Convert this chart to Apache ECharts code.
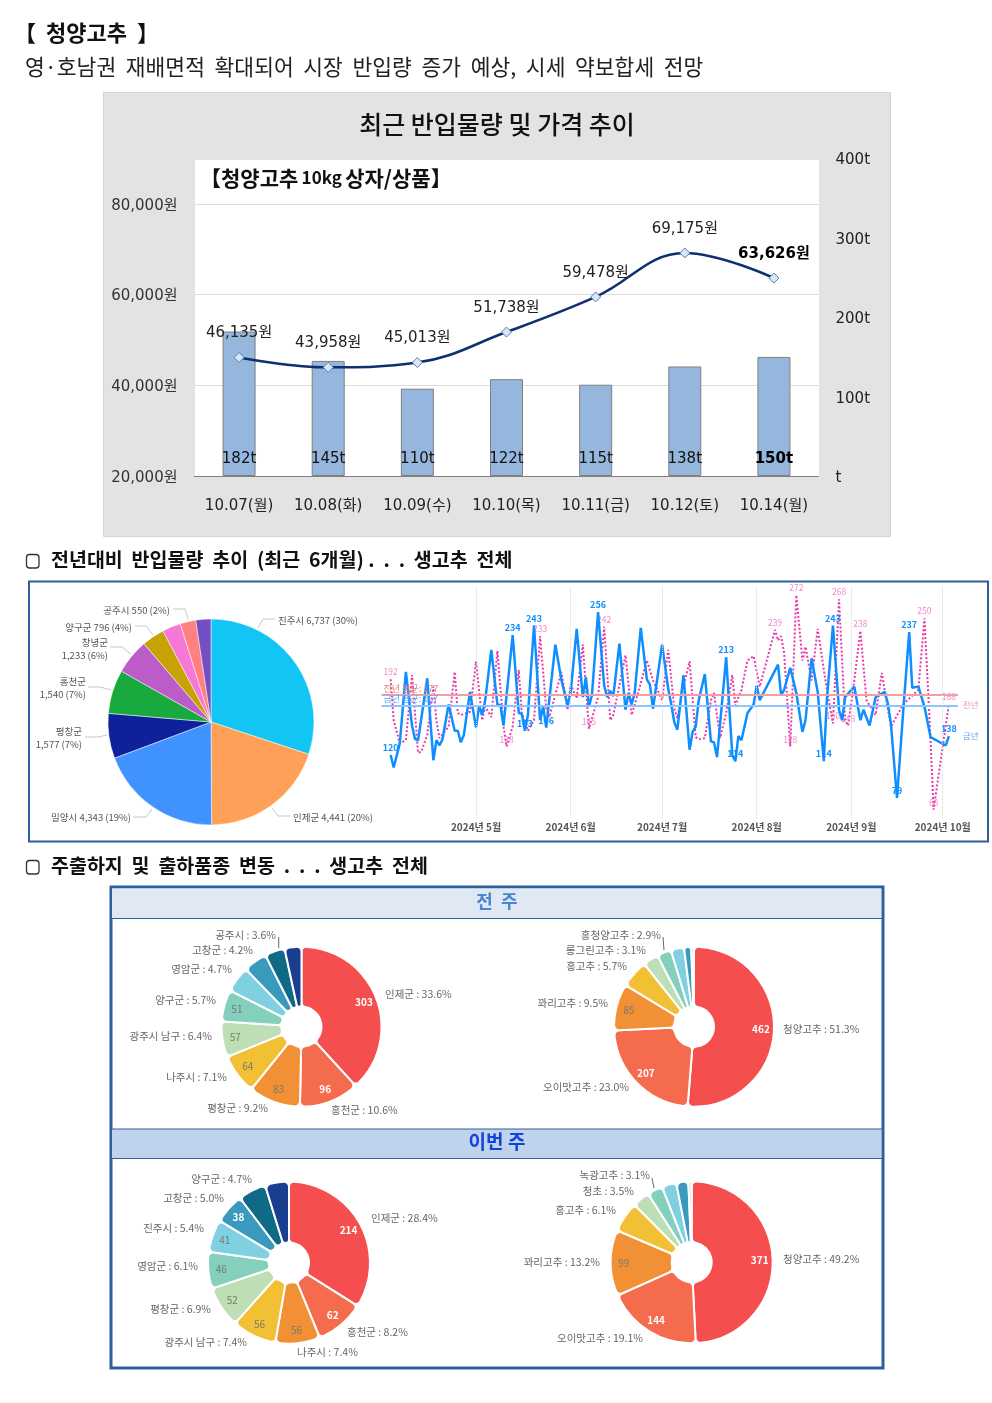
<!DOCTYPE html>
<html>
<head>
<meta charset="utf-8">
<style>
  html, body { margin: 0; padding: 0; background: #fff; }
  #main { width: 992px; height: 1403px; }
</style>
<script src="https://cdn.jsdelivr.net/npm/echarts@6/dist/echarts.min.js"></script>
</head>
<body>
<div id="main"></div>
<script>
// 상단 : 반입물량 + 가격
var days = ['10.07(월)', '10.08(화)', '10.09(수)', '10.10(목)', '10.11(금)', '10.12(토)', '10.14(월)'];
var volumes = [182, 145, 110, 122, 115, 138, 150];
var prices = [46135, 43958, 45013, 51738, 59478, 69175, 63626];

// 전년대비 파이
var yearPieNames = ['진주시', '인제군', '밀양시', '평창군', '홍천군', '창녕군', '양구군', '기타1', '공주시', '기타2'];
var yearPieValues = [6737, 4441, 4343, 1577, 1540, 1233, 796, 650, 550, 530];
var yearPieTexts = ['진주시 6,737 (30%)', '인제군 4,441 (20%)', '밀양시 4,343 (19%)', '평창군\n1,577 (7%)', '홍천군\n1,540 (7%)', '창녕군\n1,233 (6%)', '양구군 796 (4%)', '', '공주시 550 (2%)', ''];
var yearPieColors = ['#12c5f5', '#ffa058', '#4092ff', '#0f219a', '#19aa3f', '#bc5cc8', '#c6a302', '#f578d6', '#ff8080', '#744ec2'];
var yearPieAnchors = [[278, 620], [293, 817], [131, 817], [82, 738], [86, 688], [108, 649], [132, 627], null, [170, 610], null];
var yearPieLeaders = [
  [[258, 628], [263, 619], [275, 619]], [[272, 808], [278, 816], [290, 816]], [[152, 809], [146, 817], [133, 817]], [[107, 735], [98, 737], [85, 737]],
  [[111, 690], [100, 687], [88, 687]], [[131, 654], [122, 647], [110, 647]], [[153, 635], [146, 626], [135, 626]], [[188, 619], [185, 609], [173, 609]]
];

// 금년 (일자, 반입량)
var thisDates = ['04-03','04-04','04-06','04-08','04-10','04-11','04-12','04-15','04-17','04-18','04-19','04-20','04-22','04-24','04-25','04-26','04-27','04-29',
  '05-01','05-02','05-03','05-04','05-06','05-08','05-09','05-10','05-13','05-15','05-16','05-17','05-18','05-20','05-22','05-23','05-24','05-27','05-29','05-31',
  '06-01','06-03','06-05','06-06','06-07','06-08','06-10','06-12','06-13','06-14','06-15','06-17','06-19','06-20','06-21','06-22','06-24','06-26','06-27','06-28',
  '07-01','07-03','07-04','07-05','07-06','07-08','07-10','07-11','07-12','07-13','07-15','07-17','07-18','07-19','07-22','07-24','07-25','07-26','07-27','07-29','07-31',
  '08-01','08-02','08-08','08-09','08-10','08-12','08-14','08-16','08-17','08-19','08-21','08-23','08-24','08-26','08-28','08-29','08-30',
  '09-02','09-04','09-05','09-07','09-09','09-12','09-13','09-14','09-16','09-18','09-20','09-21','09-23','09-25','09-27','10-02','10-03'];
var thisValues = [120,108,131,199,148,135,134,193,115,134,129,135,168,143,143,132,139,180,
  146,167,158,172,220,168,167,148,234,160,159,143,158,243,153,166,146,225,191,167,
  179,240,175,194,166,177,256,186,175,181,176,226,163,179,168,179,241,192,187,164,
  225,183,168,151,144,196,125,142,147,172,197,133,132,118,213,120,114,138,134,160,168,
  186,172,206,177,182,203,179,142,153,212,180,114,172,243,163,153,175,
  185,153,163,148,175,180,169,150,79,160,237,184,185,166,137,129,138];
var thisMarked = ['04-03','05-13','05-17','05-20','05-24','06-10','07-22','07-25','08-23','08-26','09-16','09-20','10-03'];

// 전년 (일자, 반입량)
var lastDates = ['04-03','04-04','04-06','04-08','04-10','04-12','04-13','04-15','04-17','04-18','04-19','04-22','04-24','04-25','04-26','04-29',
  '05-01','05-03','05-04','05-06','05-08','05-10','05-11','05-13','05-15','05-16','05-18','05-20','05-22','05-24','05-25','05-29','05-31',
  '06-01','06-03','06-05','06-07','06-10','06-12','06-14','06-15','06-19','06-21','06-24','06-26','06-28',
  '07-01','07-03','07-05','07-06','07-08','07-10','07-12','07-13','07-15','07-17','07-18','07-20','07-22','07-24','07-25','07-27','07-29','07-31',
  '08-02','08-07','08-08','08-09','08-10','08-12','08-14','08-16','08-17','08-19','08-21','08-24','08-26','08-28','08-30','08-31',
  '09-02','09-04','09-06','09-09','09-11','09-14','09-18','09-23','09-25','09-27','09-28','10-03'];
var lastValues = [192,153,131,134,196,122,123,139,185,153,136,147,199,160,158,161,
  209,153,166,156,219,147,128,147,201,160,143,153,233,164,156,199,163,
  187,174,225,145,175,242,153,158,215,158,188,210,191,
  172,220,164,155,185,209,137,135,136,172,179,136,160,196,167,182,210,214,
  185,239,229,233,217,128,272,210,223,191,240,182,150,268,153,148,
  191,238,172,158,198,147,168,182,250,134,68,168];
var lastMarked = ['04-03','05-11','05-22','06-07','06-12','08-07','08-12','08-14','08-26','08-28','08-31','09-04','09-25','09-28','10-03'];

var thisAvg = 167;
var lastAvg = 177;
var monthStarts = ['2024-05-01', '2024-06-01', '2024-07-01', '2024-08-01', '2024-09-01', '2024-10-01'];

// 주출하지 / 품종 (전 주, 이번 주)
var donutColors = ['#f44e4e', '#f46b4e', '#f29035', '#f2c035', '#bedeb5', '#85cfbd', '#7fd0e0', '#3a9abd', '#106a85', '#1a3e8f'];

var prevRegionValues = [303, 96, 83, 64, 57, 51, 42, 38, 32, 27];
var prevRegionTexts = ['인제군 : 33.6%', '홍천군 : 10.6%', '평창군 : 9.2%', '나주시 : 7.1%', '광주시 남구 : 6.4%', '양구군 : 5.7%', '영암군 : 4.7%', '고창군 : 4.2%', '공주시 : 3.6%'];
var prevRegionShown = 6;
var prevRegionWhite = [0, 1];
var prevRegionAnchors = [[385, 994], [331, 1110], [268, 1108], [227, 1077], [212, 1036], [216, 1000], [232, 969], [253, 950], [276, 935]];

var prevKindValues = [462, 207, 85, 51, 28, 26, 24, 13, 5];
var prevKindColors = ['#f44e4e', '#f46b4e', '#f29035', '#f2c035', '#bedeb5', '#85cfbd', '#7fd0e0', '#3a9abd', '#cfe3ee'];
var prevKindTexts = ['청양고추 : 51.3%', '오이맛고추 : 23.0%', '꽈리고추 : 9.5%', '홍고추 : 5.7%', '롱그린고추 : 3.1%', '홍청양고추 : 2.9%'];
var prevKindShown = 3;
var prevKindWhite = [0, 1];
var prevKindAnchors = [[783, 1029], [629, 1087], [608, 1003], [627, 966], [646, 950], [661, 935]];

var nowRegionValues = [214, 62, 56, 56, 52, 46, 41, 38, 35, 30];
var nowRegionTexts = ['인제군 : 28.4%', '홍천군 : 8.2%', '나주시 : 7.4%', '광주시 남구 : 7.4%', '평창군 : 6.9%', '영암군 : 6.1%', '진주시 : 5.4%', '고창군 : 5.0%', '양구군 : 4.7%'];
var nowRegionShown = 8;
var nowRegionWhite = [0, 1, 7];
var nowRegionAnchors = [[371, 1218], [347, 1332], [297, 1352], [247, 1342], [211, 1309], [198, 1266], [204, 1228], [224, 1198], [252, 1179]];

var nowKindValues = [371, 144, 99, 46, 26, 23, 22, 18, 5];
var nowKindTexts = ['청양고추 : 49.2%', '오이맛고추 : 19.1%', '꽈리고추 : 13.2%', '홍고추 : 6.1%', '청초 : 3.5%', '녹광고추 : 3.1%'];
var nowKindShown = 3;
var nowKindWhite = [0, 1];
var nowKindAnchors = [[783, 1259], [643, 1338], [600, 1262], [616, 1210], [634, 1191], [650, 1175]];

var donutTicks = [[[278.7, 937], [278.7, 948]], [[663, 937], [664, 950]], [[652, 1178], [654, 1188]]];

var KR = '"Noto Sans CJK KR", sans-serif';
var LATIN = '"DejaVu Sans", "Noto Sans CJK KR", sans-serif';

function won(v) { return echarts.format.addCommas(v) + '원'; }

function pairs(dates, values, marked, color, size, weight) {
  return dates.map(function (d, i) {
    var item = { value: ['2024-' + d, values[i]] };
    if (marked.indexOf(d) >= 0) {
      item.label = { show: true, position: 'top', distance: 3, formatter: String(values[i]), color: color, fontSize: size, fontWeight: weight, fontFamily: KR };
    }
    return item;
  });
}

function anchorLayout(anchors, cx) {
  return function (params) {
    var a = anchors[params.dataIndex];
    if (!a) return {};
    return { x: a[0], y: a[1], align: a[0] > cx ? 'left' : 'right', verticalAlign: 'middle' };
  };
}

// 도넛 하나 = 조각+바깥글자 시리즈 + 안쪽 숫자용 투명 시리즈
function donut(cx, cy, r, r0, values, colors, texts, anchors, shown, white) {
  return [{
    type: 'pie', center: [cx, cy], radius: [r0, r], startAngle: 90, silent: true, avoidLabelOverlap: false,
    itemStyle: { borderColor: '#fff', borderWidth: 2, borderRadius: 5 },
    label: { position: 'outer', color: '#666', fontSize: 10.5, fontFamily: KR },
    labelLine: { show: false },
    labelLayout: anchorLayout(anchors, cx),
    data: values.map(function (v, i) {
      return {
        value: v,
        itemStyle: { color: colors[i] },
        label: { show: i < texts.length, formatter: texts[i] || '' }
      };
    })
  }, {
    type: 'pie', center: [cx, cy], radius: [r - 32, r], startAngle: 90, silent: true, avoidLabelOverlap: false, z: 3,
    itemStyle: { color: 'transparent' },
    labelLine: { show: false },
    data: values.map(function (v, i) {
      var isWhite = white.indexOf(i) >= 0;
      return {
        value: v,
        label: {
          show: i < shown, position: 'inside', formatter: String(v), fontSize: 10, fontFamily: KR,
          color: isWhite ? '#fff' : '#7a7a6e', fontWeight: isWhite ? 'bold' : 'normal'
        }
      };
    })
  }];
}

function text(x, y, str, font, fill, align, z) {
  return { type: 'text', x: x, y: y, z: z || 50, silent: true, style: { text: str, font: font, fill: fill, align: align || 'left', verticalAlign: 'middle' } };
}
function box(x, y, w, h, fill, stroke, lw, z, r) {
  return { type: 'rect', z: z, silent: true, shape: { x: x, y: y, width: w, height: h, r: r || 0 }, style: { fill: fill, stroke: stroke, lineWidth: lw } };
}
function leader(points, color) {
  return { type: 'polyline', z: 40, silent: true, shape: { points: points }, style: { fill: null, stroke: color, lineWidth: 1 } };
}

var myChart = echarts.init(document.getElementById('main'), null, { renderer: 'canvas' });

var series = [{
  type: 'bar', xAxisIndex: 0, yAxisIndex: 1, barWidth: 33, z: 2,
  data: volumes.map(function (v, i) {
    return i === volumes.length - 1 ? { value: v, label: { fontWeight: 'bold', color: '#000' } } : v;
  }),
  itemStyle: { color: '#95b7de', borderColor: '#7f7f7f', borderWidth: 1 },
  label: {
    show: true, position: 'insideBottom', distance: 9, fontSize: 15, fontFamily: LATIN, color: '#111',
    formatter: function (p) { return p.value + 't'; }
  }
}, {
  type: 'line', xAxisIndex: 0, yAxisIndex: 0, smooth: 0.4, z: 4,
  data: prices.map(function (v, i) {
    return i === prices.length - 1 ? { value: v, label: { fontWeight: 'bold', color: '#000' } } : v;
  }),
  symbol: 'diamond', symbolSize: 10,
  lineStyle: { color: '#0f2f70', width: 2.5 },
  itemStyle: { color: '#dce6f2', borderColor: '#4f81bd', borderWidth: 1 },
  label: {
    show: true, position: 'top', distance: 11, fontSize: 15, fontFamily: LATIN, color: '#222',
    formatter: function (p) { return won(p.value); }
  }
}, {
  type: 'pie', center: [211, 722], radius: [0, 103], startAngle: 90, silent: true, avoidLabelOverlap: false,
  itemStyle: { borderColor: '#fff', borderWidth: 0.5 },
  label: { position: 'outer', color: '#555', fontSize: 9.5, lineHeight: 13.5, fontFamily: KR },
  labelLine: { show: false },
  labelLayout: anchorLayout(yearPieAnchors, 211),
  data: yearPieValues.map(function (v, i) {
    return {
      name: yearPieNames[i], value: v, itemStyle: { color: yearPieColors[i] },
      label: { show: !!yearPieTexts[i], formatter: yearPieTexts[i] }
    };
  })
}, {
  type: 'line', xAxisIndex: 1, yAxisIndex: 2, z: 3, clip: false, symbol: 'circle', symbolSize: 0, showSymbol: true, showAllSymbol: true,
  data: pairs(lastDates, lastValues, lastMarked, '#f08ac8', 8.5, 'normal'),
  lineStyle: { color: '#e63aa8', width: 2, type: [2, 2] },
  endLabel: { show: true, formatter: '전년', color: '#f08ac8', fontSize: 8.5, fontFamily: KR, offset: [6, 0] },
  markLine: {
    silent: true, symbol: 'none', animation: false,
    lineStyle: { color: '#f0a0a0', width: 2, type: 'solid' },
    label: { position: 'insideStartTop', distance: 2, color: '#e08070', fontSize: 9, fontFamily: KR, formatter: '전년 평균: ' + lastAvg },
    data: [{ yAxis: lastAvg }]
  }
}, {
  type: 'line', xAxisIndex: 1, yAxisIndex: 2, z: 4, clip: false, symbol: 'circle', symbolSize: 0, showSymbol: true, showAllSymbol: true,
  data: pairs(thisDates, thisValues, thisMarked, '#0f8fff', 9, 'bold'),
  lineStyle: { color: '#0f8fff', width: 2.5 },
  endLabel: { show: true, formatter: '금년', color: '#5aa8ff', fontSize: 8.5, fontFamily: KR, offset: [6, 0] },
  markLine: {
    silent: true, symbol: 'none', animation: false,
    data: [{
      yAxis: thisAvg, lineStyle: { color: '#8cc4ff', width: 2, type: 'solid' },
      label: { position: 'insideStartTop', distance: 2, color: '#5aa8ff', fontSize: 9, fontFamily: KR, formatter: '금년 평균: ' + thisAvg }
    }].concat(monthStarts.map(function (m) {
      return { xAxis: m, lineStyle: { color: '#d8d8d8', width: 1, type: 'dotted' }, label: { show: false } };
    }))
  }
}];

series = series
  .concat(donut(301.5, 1026.7, 80, 20, prevRegionValues, donutColors, prevRegionTexts, prevRegionAnchors, prevRegionShown, prevRegionWhite))
  .concat(donut(694, 1026.7, 80, 20, prevKindValues, prevKindColors, prevKindTexts, prevKindAnchors, prevKindShown, prevKindWhite))
  .concat(donut(289, 1262.7, 81, 20, nowRegionValues, donutColors, nowRegionTexts, nowRegionAnchors, nowRegionShown, nowRegionWhite))
  .concat(donut(691.7, 1262.3, 81, 20, nowKindValues, prevKindColors, nowKindTexts, nowKindAnchors, nowKindShown, nowKindWhite));

var graphics = [
  box(103.5, 92.5, 787, 444, '#e3e3e3', '#d4d4d4', 1, -30),
  box(195, 160, 624, 316, '#fff', null, 0, -29),
  box(29, 581.5, 959, 260, '#fff', '#2e5f9a', 2, -30),
  box(111, 887, 772, 481, '#fff', '#2e5f9e', 3, -30),
  box(112, 888.5, 769, 29.5, '#dfe8f3', null, 0, -29),
  box(112, 1129, 769, 29.5, '#bfd3ec', null, 0, -29),
  { type: 'line', z: -28, silent: true, shape: { x1: 112, y1: 918.5, x2: 882, y2: 918.5 }, style: { stroke: '#2e5f9e', lineWidth: 1 } },
  { type: 'line', z: -28, silent: true, shape: { x1: 112, y1: 1129, x2: 882, y2: 1129 }, style: { stroke: '#2e5f9e', lineWidth: 1 } },
  { type: 'line', z: -28, silent: true, shape: { x1: 112, y1: 1158.5, x2: 882, y2: 1158.5 }, style: { stroke: '#2e5f9e', lineWidth: 1 } },
  text(14, 33, '【  청양고추  】', 'bold 22px ' + KR, '#111'),
  text(25, 67, '영·호남권  재배면적  확대되어  시장  반입량  증가  예상,  시세  약보합세  전망', '21.5px ' + KR, '#222'),
  text(497, 124, '최근 반입물량 및 가격 추이', '500 25px ' + KR, '#111', 'center'),
  {
    type: 'text', x: 200, y: 178, z: 50, silent: true,
    style: {
      text: '{a|【청양고추} {b|10kg} {a|상자/상품】}', verticalAlign: 'middle', fill: '#111',
      rich: { a: { font: 'bold 21px ' + KR, fill: '#111' }, b: { font: 'bold 17px ' + KR, fill: '#111' } }
    }
  },
  box(26.5, 554.5, 12.5, 13.5, null, '#333', 1.3, 50, 3),
  text(51, 560, '전년대비  반입물량  추이  (최근  6개월) .  .  .  생고추  전체', 'bold 19.5px ' + KR, '#111'),
  box(26.5, 860.5, 12.5, 13.5, null, '#333', 1.3, 50, 3),
  text(51, 866, '주출하지  및  출하품종  변동  .  .  .  생고추  전체', 'bold 19.5px ' + KR, '#111'),
  text(497, 901, '전  주', 'bold 18px ' + KR, '#4a86d0', 'center'),
  text(497, 1142, '이번 주', 'bold 19px ' + KR, '#1144dd', 'center')
];
yearPieLeaders.forEach(function (p) { graphics.push(leader(p, '#c8c8c8')); });
donutTicks.forEach(function (p) { graphics.push(leader(p, '#666')); });

var option = {
  animation: false,
  backgroundColor: '#fff',
  textStyle: { fontFamily: KR },
  grid: [
    { left: 194.5, right: 173.5, top: 158.5, height: 317.5, show: true, backgroundColor: 'rgba(0,0,0,0)', borderWidth: 0 },
    { left: 381.5, width: 576.5, top: 586.8, height: 231.2 }
  ],
  xAxis: [{
    type: 'category', gridIndex: 0, data: days,
    axisLine: { lineStyle: { color: '#808080', width: 1 } }, axisTick: { show: false },
    axisLabel: { margin: 23, fontSize: 15, color: '#222', fontFamily: LATIN, interval: 0 }
  }, {
    type: 'time', gridIndex: 1, min: '2024-03-31', max: '2024-10-06', splitNumber: 6,
    axisLine: { show: false }, axisTick: { show: false }, splitLine: { show: false }, minorSplitLine: { show: false },
    axisLabel: {
      show: true, interval: 0, margin: 4, fontSize: 10, fontWeight: 'bold', color: '#555', fontFamily: KR, hideOverlap: false,
      showMinLabel: false, showMaxLabel: false,
      formatter: function (value) {
        var d = new Date(value);
        if (d.getDate() !== 1 || d.getMonth() < 4) return '';
        return d.getFullYear() + '년 ' + (d.getMonth() + 1) + '월';
      }
    }
  }],
  yAxis: [{
    type: 'value', gridIndex: 0, min: 20000, max: 90000, interval: 20000,
    axisLine: { show: false }, axisTick: { show: false },
    splitLine: { showMinLine: false, showMaxLine: false, lineStyle: { color: '#dcdcdc', width: 1 } },
    axisLabel: { margin: 17, fontSize: 15, color: '#333', fontFamily: LATIN, verticalAlign: 'top', lineHeight: 4, showMaxLabel: false, formatter: function (v) { return won(v); } }
  }, {
    type: 'value', gridIndex: 0, position: 'right', min: 0, max: 400, interval: 100,
    axisLine: { show: false }, axisTick: { show: false }, splitLine: { show: false },
    axisLabel: { margin: 17, fontSize: 15, color: '#222', fontFamily: LATIN, verticalAlign: 'top', lineHeight: 4, formatter: function (v) { return v === 0 ? 't' : v + 't'; } }
  }, {
    type: 'value', gridIndex: 1, min: 60, max: 280, show: false, splitLine: { show: false }
  }],
  graphic: { elements: graphics },
  series: series
};
myChart.setOption(option);
</script>
</body>
</html>
